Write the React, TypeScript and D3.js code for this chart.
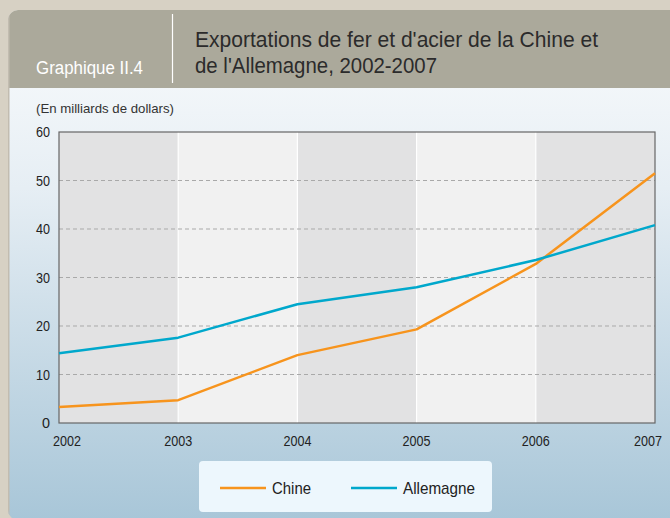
import React from "react";
import * as d3 from "d3";

const years = [2002, 2003, 2004, 2005, 2006, 2007];
const chine = [3.3, 4.7, 14.0, 19.3, 32.8, 51.5];
const allemagne = [14.4, 17.6, 24.5, 28.0, 33.6, 40.8];
const yTicks = [0, 10, 20, 30, 40, 50, 60];
const seriesNames = ["Chine", "Allemagne"];
const seriesColors = ["#f7941d", "#00a8cc"];

const W = 670;
const H = 518;
const FONT = "'Liberation Sans', Arial, sans-serif";

export default function App() {
  const left = 59, right = 655, top = 132, bottom = 423;
  const x = d3.scaleLinear().domain([2002, 2007]).range([left, right]);
  const y = d3.scaleLinear().domain([0, 60]).range([bottom, top]);
  const line = d3.line<number>().x((_, i) => x(years[i])).y((v) => y(v));
  const data = [chine, allemagne];

  return (
    <svg width={W} height={H} style={{ position: "absolute", left: 0, top: 0 }} fontFamily={FONT}>
      <defs>
        <linearGradient id="bodyGrad" x1="0" y1="0" x2="0" y2="1">
          <stop offset="0" stopColor="#fbfcfd" />
          <stop offset="0.35" stopColor="#e6eef4" />
          <stop offset="1" stopColor="#a8c6d8" />
        </linearGradient>
        <clipPath id="panelClip">
          <rect x={8} y={10} width={680} height={510} rx={10} />
        </clipPath>
      </defs>
      <rect x={0} y={0} width={W} height={H} fill="#d7d1c4" />
      <g clipPath="url(#panelClip)">
        <rect x={8} y={10} width={680} height={510} fill="url(#bodyGrad)" />
        <rect x={8} y={10} width={680} height={78} fill="#aba99b" />
        <rect x={8} y={10} width={1.5} height={510} fill="#c2bcb0" />
      </g>
      <line x1={172.5} x2={172.5} y1={14} y2={83} stroke="#ffffff" strokeWidth={1.2} />
      <text x={36} y={74} fill="#ffffff" fontSize={18} textLength={107} lengthAdjust="spacingAndGlyphs">Graphique II.4</text>
      <text x={195} y={47} fill="#2b2b2b" fontSize={22.5} textLength={403} lengthAdjust="spacingAndGlyphs">Exportations de fer et d'acier de la Chine et</text>
      <text x={195} y={73} fill="#2b2b2b" fontSize={22.5} textLength={242} lengthAdjust="spacingAndGlyphs">de l'Allemagne, 2002-2007</text>

      <text x={36} y={113} fill="#333" fontSize={13.5} textLength={138} lengthAdjust="spacingAndGlyphs">(En milliards de dollars)</text>

      {years.slice(0, -1).map((yr, i) => (
        <rect key={yr} x={x(yr)} y={top} width={x(years[i + 1]) - x(yr)} height={bottom - top}
          fill={i % 2 === 0 ? "#e2e2e3" : "#f1f1f1"} />
      ))}
      {years.slice(1, -1).map((yr) => (
        <line key={yr} x1={x(yr)} x2={x(yr)} y1={top} y2={bottom} stroke="#ffffff" strokeWidth={1.2} />
      ))}
      {yTicks.slice(1, -1).map((t) => (
        <line key={t} x1={left} x2={right} y1={y(t)} y2={y(t)} stroke="#a9a9a9" strokeDasharray="4,3" strokeWidth={1} />
      ))}
      <rect x={left} y={top} width={right - left} height={bottom - top} fill="none" stroke="#666" strokeWidth={1.2} />

      {yTicks.map((t) => (
        <text key={t} x={50} y={y(t) + 5} textAnchor="end" fontSize={14} fill="#222"
          textLength={t === 0 ? 8 : 14} lengthAdjust="spacingAndGlyphs">{t}</text>
      ))}
      {years.map((yr, i) => {
        const cx = i === 0 ? x(yr) + 8 : i === years.length - 1 ? x(yr) - 7 : x(yr);
        return (
          <text key={yr} x={cx - 14} y={446} fontSize={14} fill="#222" textLength={28} lengthAdjust="spacingAndGlyphs">{yr}</text>
        );
      })}

      {data.map((d, i) => (
        <path key={i} d={line(d) || ""} fill="none" stroke={seriesColors[i]} strokeWidth={2.5} strokeLinejoin="round" />
      ))}

      <rect x={199} y={461} width={293} height={51} rx={4} fill="#edf7fd" />
      {seriesNames.map((n, i) => {
        const lx = i === 0 ? 220 : 351;
        return (
          <g key={n}>
            <line x1={lx} x2={lx + 46} y1={488} y2={488} stroke={seriesColors[i]} strokeWidth={2.5} />
            <text x={lx + 52} y={494} fontSize={17} fill="#222" textLength={i === 0 ? 39 : 72} lengthAdjust="spacingAndGlyphs">{n}</text>
          </g>
        );
      })}
    </svg>
  );
}
